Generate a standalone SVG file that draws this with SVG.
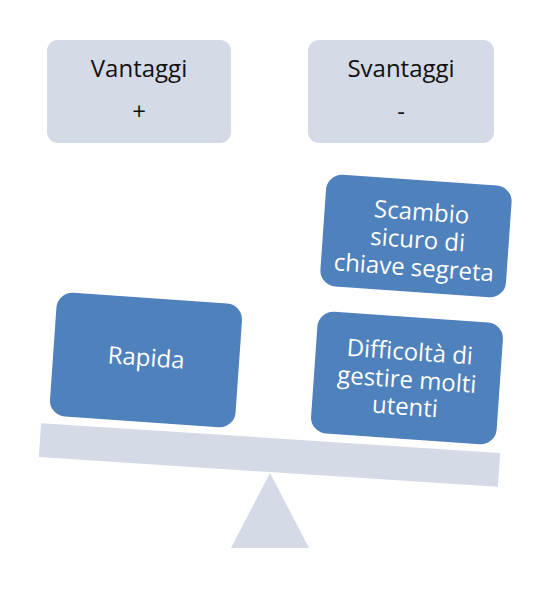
<svg xmlns="http://www.w3.org/2000/svg" width="553" height="590" viewBox="0 0 553 590">
<style>
.hdr{fill:#d5dae7;}
.blue{fill:#4f81bd;}
.scale{fill:#d5dae7;}
.th{font-family:"Open Sans","Liberation Sans",sans-serif;font-size:24px;fill:#111;text-anchor:middle;}
.tw{font-family:"Open Sans","Liberation Sans",sans-serif;font-size:24px;fill:#ffffff;text-anchor:middle;}
</style>
<rect width="553" height="590" fill="#ffffff"/>
<g id="scale">
<rect class="scale" x="-230" y="-17" width="460" height="34" transform="translate(269.5 455) rotate(3.7)"/>
<polygon class="scale" points="270,473 309,548 231,548"/>
</g>
<g id="vantaggi">
<rect class="hdr" x="47" y="40" width="184" height="103" rx="11"/>
<text class="th" x="139" y="77">Vantaggi</text>
<text class="th" x="139" y="120">+</text>
</g>
<g id="svantaggi">
<rect class="hdr" x="308" y="40" width="186" height="103" rx="11"/>
<text class="th" x="401" y="77">Svantaggi</text>
<text class="th" x="401" y="120">-</text>
</g>
<g id="rapida" transform="translate(146 360) rotate(4)">
<rect class="blue" x="-93" y="-62" width="186" height="124" rx="16"/>
<text class="tw" x="0" y="6">Rapida</text>
</g>
<g id="scambio" transform="translate(416 236) rotate(4)">
<rect class="blue" x="-93" y="-56" width="186" height="112" rx="16"/>
<text class="tw" x="4" y="-16">Scambio</text>
<text class="tw" x="2" y="12">sicuro di</text>
<text class="tw" x="0" y="40">chiave segreta</text>
</g>
<g id="difficolta" transform="translate(407 378) rotate(4)">
<rect class="blue" x="-93" y="-61" width="186" height="122" rx="16"/>
<text class="tw" x="1" y="-18">Difficoltà di</text>
<text class="tw" x="0" y="10">gestire molti</text>
<text class="tw" x="0" y="37">utenti</text>
</g>
<g id="connectors"/>
</svg>
